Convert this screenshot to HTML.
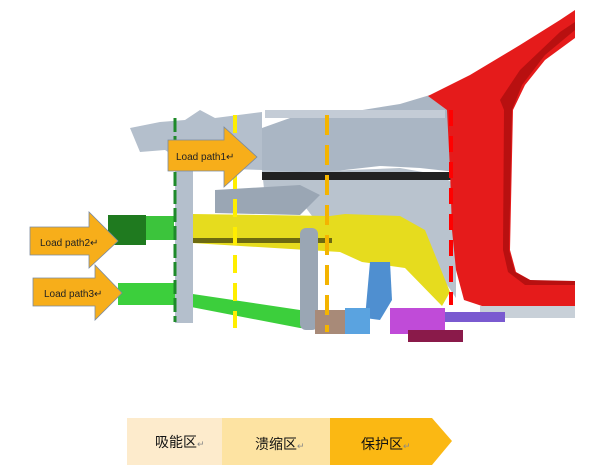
<!DOCTYPE html>
<html><head><meta charset="utf-8"><style>
html,body{margin:0;padding:0;background:#fff;}
svg{display:block;}
text{font-family:"Liberation Sans","Noto Sans CJK SC",sans-serif;}
</style></head><body>
<svg width="600" height="471" viewBox="0 0 600 471" xmlns="http://www.w3.org/2000/svg">
<!-- gray upper structures -->
<polygon points="130,128 160,122 185,120 200,110 215,118 262,112 262,170 200,168 180,160 165,150 140,152" fill="#b4bfcc"/>
<polygon points="262,128 290,118 350,112 400,104 430,95 452,108 456,172 420,168 380,166 300,175 262,178" fill="#aab6c4"/>
<rect x="265" y="110" width="180" height="8" fill="#c4ccd6"/>
<polygon points="262,170 300,172 400,168 440,175 456,185 456,298 430,260 400,250 340,250 330,240 300,200 265,198" fill="#b9c3ce"/>
<rect x="262" y="172" width="190" height="8" fill="#222"/>
<polygon points="215,190 300,185 320,195 300,215 215,213" fill="#9aa6b4"/>
<!-- red pillar -->
<polygon points="428,96 470,75 520,45 560,20 575,10 575,38 545,60 525,85 513,110 510,250 516,272 532,281 575,282 575,306 482,306 464,300 456,270 452,230 450,170 447,110" fill="#e51b1b"/>
<polygon points="500,100 520,70 560,32 575,22 575,30 545,55 522,85 512,110 509,250 515,272 530,280 575,281 575,285 525,285 508,272 503,250 504,110" fill="#b81010"/>
<rect x="480" y="306" width="95" height="12" fill="#c8d0d8"/>
<!-- yellow rail -->
<polygon points="192,214 330,216 345,214 400,216 425,230 450,292 442,306 405,268 362,262 340,252 192,243" fill="#e6dc1e"/>
<rect x="192" y="238" width="140" height="5" fill="#6d6a10"/>
<!-- green -->
<rect x="108" y="215" width="38" height="30" fill="#1f7a1f"/>
<rect x="146" y="216" width="28" height="24" fill="#3cc43c"/>
<rect x="118" y="283" width="58" height="22" fill="#3ccf3c"/>
<polygon points="186,293 300,310 330,312 330,330 300,328 186,306" fill="#3ccf3c"/>
<!-- vertical gray parts -->
<rect x="175" y="125" width="18" height="198" fill="#b4bfcc"/>
<rect x="300" y="228" width="18" height="102" fill="#9aa6b4" rx="6"/>
<polygon points="370,262 390,262 392,300 380,320 365,318" fill="#4f8fd0"/>
<!-- bottom parts -->
<rect x="315" y="310" width="30" height="24" fill="#a88a78"/>
<rect x="345" y="308" width="25" height="26" fill="#5aa3e0"/>
<rect x="390" y="308" width="55" height="26" fill="#c04bd8"/>
<rect x="408" y="330" width="55" height="12" fill="#8a1a4a"/>
<rect x="445" y="312" width="60" height="10" fill="#7a5ad0"/>
<!-- dashed lines -->
<line x1="175" y1="118" x2="175" y2="322" stroke="#1e8a2a" stroke-width="3" stroke-dasharray="14,4"/>
<line x1="235" y1="115" x2="235" y2="328" stroke="#ffee00" stroke-width="4" stroke-dasharray="18,10"/>
<line x1="327" y1="115" x2="327" y2="332" stroke="#f4b400" stroke-width="4" stroke-dasharray="20,10"/>
<line x1="451" y1="110" x2="451" y2="305" stroke="#ff0000" stroke-width="4" stroke-dasharray="16,10"/>
<!-- arrows -->
<polygon points="168,140 224,140 224,127 257,157 224,187 224,171 168,171" fill="#f7ae1a" stroke="#7a8aa0" stroke-width="0.8"/>
<polygon points="30,227 89,227 89,212 118,241 89,268 89,255 30,255" fill="#f7ae1a" stroke="#7a8aa0" stroke-width="0.8"/>
<polygon points="33,278 95,278 95,265 122,293 95,320 95,306 33,306" fill="#f7ae1a" stroke="#7a8aa0" stroke-width="0.8"/>
<text x="176" y="160" font-size="10" fill="#222">Load path1↵</text>
<text x="40" y="246" font-size="10" fill="#222">Load path2↵</text>
<text x="44" y="297" font-size="10" fill="#222">Load path3↵</text>
<!-- legend -->
<rect x="127" y="418" width="96" height="47" fill="#fdebcc"/>
<rect x="222" y="418" width="108" height="47" fill="#fde3a2"/>
<polygon points="330,418 432,418 452,441 432,465 330,465" fill="#fbb813"/>
<text x="155" y="447" font-size="14" fill="#111">吸能区<tspan font-size="9" fill="#888">↵</tspan></text>
<text x="255" y="449" font-size="14" fill="#111">溃缩区<tspan font-size="9" fill="#888">↵</tspan></text>
<text x="361" y="449" font-size="14" fill="#111">保护区<tspan font-size="9" fill="#888">↵</tspan></text>
</svg>
</body></html>
